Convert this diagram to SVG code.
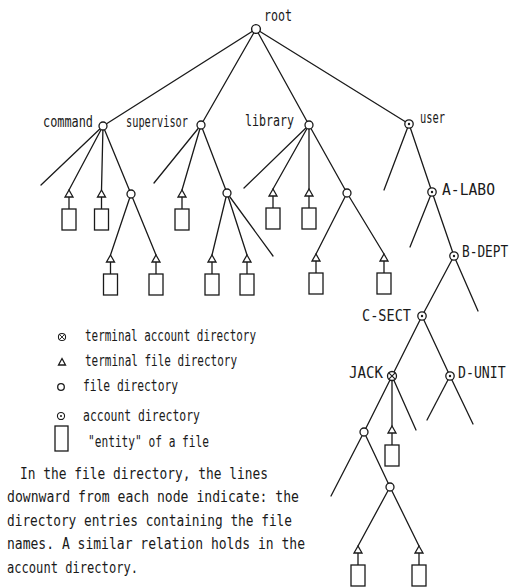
<svg xmlns="http://www.w3.org/2000/svg" width="511" height="587" viewBox="0 0 511 587">
  <style>
    .e { stroke: #1a1a1a; stroke-width: 1.3; fill: none; stroke-linecap: round; }
    .n { fill: #fff; stroke: #1a1a1a; stroke-width: 1.3; }
    .dot { fill: #1a1a1a; }
    .x { stroke: #1a1a1a; stroke-width: 1.1; }
    text { font-family: "DejaVu Sans Mono", "Liberation Mono", monospace; font-size: 15.5px; fill: #1a1a1a; }
    .cap { font-size: 16.5px; }
  </style>
  <defs>
    <!-- terminal file directory: triangle, stem and the file entity box -->
    <g id="tfile">
      <line class="e" x1="0" y1="3" x2="0" y2="15"/>
      <polygon class="n" points="0,-4 4,3 -4,3"/>
      <rect class="n" x="-7" y="15" width="14" height="21"/>
    </g>
    <g id="fdir"><circle class="n" r="4"/></g>
    <g id="adir"><circle class="n" r="4.2"/><circle class="dot" r="1.2"/></g>
    <g id="tadir">
      <circle class="n" r="4.5"/>
      <line class="x" x1="-3.2" y1="-3.2" x2="3.2" y2="3.2"/>
      <line class="x" x1="3.2" y1="-3.2" x2="-3.2" y2="3.2"/>
    </g>
  </defs>

  <g id="connectors">
    <!-- root -->
    <line class="e" x1="256" y1="29" x2="103" y2="126"/>
    <line class="e" x1="256" y1="29" x2="201" y2="125"/>
    <line class="e" x1="256" y1="29" x2="309" y2="125"/>
    <line class="e" x1="256" y1="29" x2="409" y2="124"/>
    <!-- command -->
    <line class="e" x1="103" y1="126" x2="41" y2="185"/>
    <line class="e" x1="103" y1="126" x2="69" y2="190"/>
    <line class="e" x1="103" y1="126" x2="101.5" y2="190"/>
    <line class="e" x1="103" y1="126" x2="131" y2="194"/>
    <line class="e" x1="131" y1="194" x2="110.5" y2="255"/>
    <line class="e" x1="131" y1="194" x2="156" y2="255"/>
    <!-- supervisor -->
    <line class="e" x1="201" y1="125" x2="154" y2="183"/>
    <line class="e" x1="201" y1="125" x2="182" y2="190"/>
    <line class="e" x1="201" y1="125" x2="227" y2="193"/>
    <line class="e" x1="227" y1="193" x2="212" y2="255"/>
    <line class="e" x1="227" y1="193" x2="247" y2="255"/>
    <line class="e" x1="227" y1="193" x2="273" y2="256"/>
    <!-- library -->
    <line class="e" x1="309" y1="125" x2="244" y2="188"/>
    <line class="e" x1="309" y1="125" x2="273" y2="189"/>
    <line class="e" x1="309" y1="125" x2="309" y2="189"/>
    <line class="e" x1="309" y1="125" x2="347" y2="193"/>
    <line class="e" x1="347" y1="193" x2="316" y2="254"/>
    <line class="e" x1="347" y1="193" x2="384" y2="254"/>
    <!-- user chain -->
    <line class="e" x1="409" y1="124" x2="384" y2="190"/>
    <line class="e" x1="409" y1="124" x2="432" y2="192"/>
    <line class="e" x1="432" y1="192" x2="410" y2="247"/>
    <line class="e" x1="432" y1="192" x2="454" y2="256"/>
    <line class="e" x1="454" y1="256" x2="422" y2="316"/>
    <line class="e" x1="454" y1="256" x2="478" y2="311"/>
    <line class="e" x1="422" y1="316" x2="392" y2="376"/>
    <line class="e" x1="422" y1="316" x2="450" y2="376"/>
    <line class="e" x1="450" y1="376" x2="427" y2="420"/>
    <line class="e" x1="450" y1="376" x2="473" y2="424"/>
    <!-- JACK -->
    <line class="e" x1="392" y1="376" x2="364" y2="432"/>
    <line class="e" x1="392" y1="376" x2="392" y2="426"/>
    <line class="e" x1="392" y1="376" x2="416" y2="430"/>
    <line class="e" x1="364" y1="432" x2="331" y2="496"/>
    <line class="e" x1="364" y1="432" x2="390" y2="487"/>
    <line class="e" x1="390" y1="487" x2="358" y2="546"/>
    <line class="e" x1="390" y1="487" x2="419" y2="546"/>
  </g>

  <g id="root"><use href="#fdir" transform="translate(256,29) scale(1.1)"/><text x="264" y="21" textLength="28" lengthAdjust="spacingAndGlyphs">root</text></g>

  <g id="command"><use href="#fdir" x="103" y="126"/><text x="43" y="127" textLength="50" lengthAdjust="spacingAndGlyphs">command</text></g>
  <g id="command-f1"><use href="#tfile" x="69" y="194"/></g>
  <g id="command-f2"><use href="#tfile" x="101.5" y="194"/></g>
  <g id="command-d1"><use href="#fdir" x="131" y="194"/></g>
  <g id="command-d1-f1"><use href="#tfile" x="110.5" y="259"/></g>
  <g id="command-d1-f2"><use href="#tfile" x="156" y="259"/></g>

  <g id="supervisor"><use href="#fdir" x="201" y="125"/><text x="126" y="127" textLength="62" lengthAdjust="spacingAndGlyphs">supervisor</text></g>
  <g id="supervisor-f1"><use href="#tfile" x="182" y="194"/></g>
  <g id="supervisor-d1"><use href="#fdir" x="227" y="193"/></g>
  <g id="supervisor-d1-f1"><use href="#tfile" x="212" y="259"/></g>
  <g id="supervisor-d1-f2"><use href="#tfile" x="247" y="259"/></g>

  <g id="library"><use href="#fdir" x="309" y="125"/><text x="245" y="126" textLength="49" lengthAdjust="spacingAndGlyphs">library</text></g>
  <g id="library-f1"><use href="#tfile" x="273" y="193"/></g>
  <g id="library-f2"><use href="#tfile" x="309" y="193"/></g>
  <g id="library-d1"><use href="#fdir" x="347" y="193"/></g>
  <g id="library-d1-f1"><use href="#tfile" x="316" y="258"/></g>
  <g id="library-d1-f2"><use href="#tfile" x="384" y="258"/></g>

  <g id="user"><use href="#adir" x="409" y="124"/><text x="420" y="123" textLength="25" lengthAdjust="spacingAndGlyphs">user</text></g>
  <g id="a-labo"><use href="#adir" x="432" y="192"/><text class="cap" x="442" y="195" textLength="53" lengthAdjust="spacingAndGlyphs">A-LABO</text></g>
  <!-- labels near the right edge are narrowed with a transform -->
  <g id="b-dept"><use href="#adir" x="454" y="256"/><text class="cap" transform="translate(462,257) scale(0.775,1)">B-DEPT</text></g>
  <g id="c-sect"><use href="#adir" x="422" y="316"/><text class="cap" x="362" y="321" textLength="49" lengthAdjust="spacingAndGlyphs">C-SECT</text></g>
  <g id="jack"><use href="#tadir" x="392" y="376"/><text class="cap" x="349" y="378" textLength="34" lengthAdjust="spacingAndGlyphs">JACK</text></g>
  <g id="d-unit"><use href="#adir" x="450" y="376"/><text class="cap" transform="translate(458,378) scale(0.8,1)">D-UNIT</text></g>
  <g id="jack-f1"><use href="#tfile" x="392" y="430"/></g>
  <g id="jack-d1"><use href="#fdir" x="364" y="432"/></g>
  <g id="jack-d2"><use href="#fdir" x="390" y="487"/></g>
  <g id="jack-d2-f1"><use href="#tfile" x="358" y="550"/></g>
  <g id="jack-d2-f2"><use href="#tfile" x="419" y="550"/></g>

  <!-- legend -->
  <g id="legend">
    <g transform="translate(62,337) scale(0.8)"><use href="#tadir"/></g>
    <polygon class="n" points="62,358.5 65.5,365 58.5,365"/>
    <circle class="n" cx="61" cy="387" r="3.3"/>
    <g transform="translate(61,416) scale(0.85)"><use href="#adir"/></g>
    <rect class="n" x="55" y="426" width="13" height="25"/>
    <text x="85" y="341" textLength="171" lengthAdjust="spacingAndGlyphs">terminal account directory</text>
    <text x="85" y="366" textLength="152" lengthAdjust="spacingAndGlyphs">terminal file directory</text>
    <text x="83" y="391" textLength="95" lengthAdjust="spacingAndGlyphs">file directory</text>
    <text x="83" y="421" textLength="117" lengthAdjust="spacingAndGlyphs">account directory</text>
    <text x="88" y="447" textLength="121" lengthAdjust="spacingAndGlyphs">"entity" of a file</text>
  </g>

  <g id="note">
    <text x="20" y="479" textLength="248" lengthAdjust="spacingAndGlyphs">In the file directory, the lines</text>
    <text x="7" y="502" textLength="292" lengthAdjust="spacingAndGlyphs">downward from each node indicate: the</text>
    <text x="7" y="526" textLength="285" lengthAdjust="spacingAndGlyphs">directory entries containing the file</text>
    <text x="7" y="549" textLength="298" lengthAdjust="spacingAndGlyphs">names. A similar relation holds in the</text>
    <text x="7" y="573" textLength="131" lengthAdjust="spacingAndGlyphs">account directory.</text>
  </g>
</svg>
